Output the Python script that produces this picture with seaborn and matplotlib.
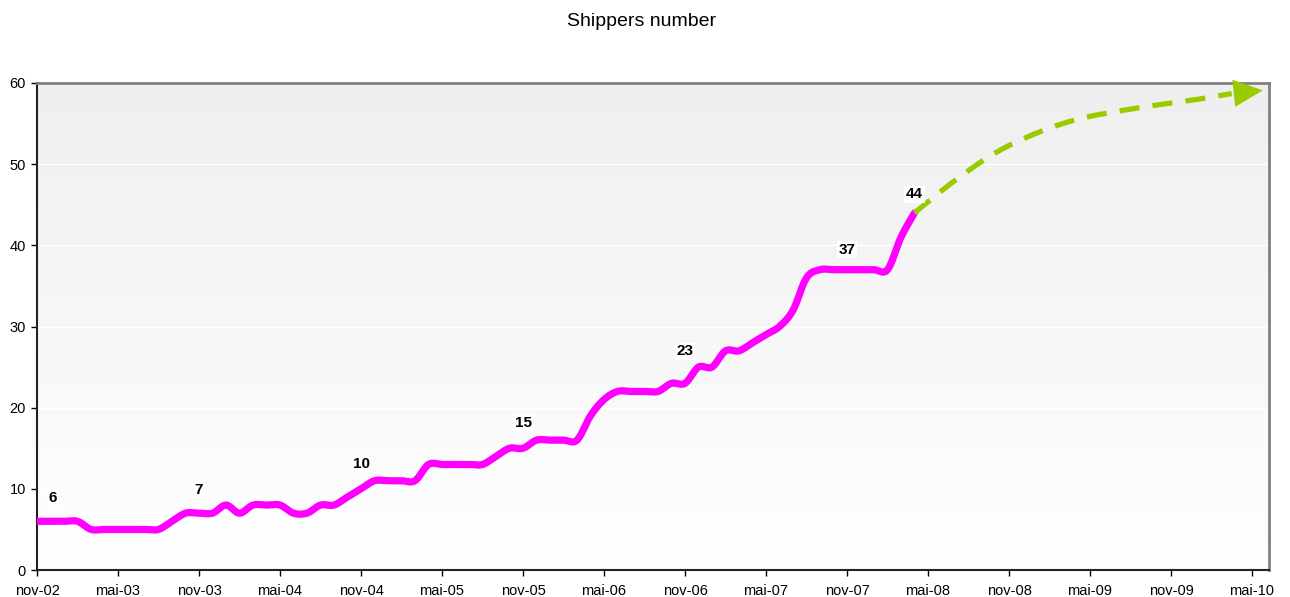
import numpy as np
import pandas as pd
import matplotlib
matplotlib.use("Agg")
import matplotlib.pyplot as plt
import seaborn as sns

# ---------------- data ----------------
tick_labels = ["nov-02", "mai-03", "nov-03", "mai-04", "nov-04", "mai-05", "nov-05", "mai-06",
               "nov-06", "mai-07", "nov-07", "mai-08", "nov-08", "mai-09", "nov-09", "mai-10"]

# monthly shipper counts, nov-02 (month 0) .. apr-08 (month 65)
shippers = [6, 6, 6, 6, 5, 5, 5, 5, 5, 5,
            6, 7, 7, 7, 8, 7, 8, 8, 8, 7,
            7, 8, 8, 9, 10, 11, 11, 11, 11, 13,
            13, 13, 13, 13, 14, 15, 15, 16, 16, 16,
            16, 19, 21, 22, 22, 22, 22, 23, 23, 25,
            25, 27, 27, 28, 29, 30, 32, 36, 37, 37,
            37, 37, 37, 37, 41, 44]
months = list(range(len(shippers)))

# forecast trend (dashed green arrow)
forecast_months = [65, 68, 71, 74, 77, 80, 83, 86, 88.5]
forecast_values = [44, 48.0, 51.4, 53.8, 55.5, 56.5, 57.3, 58.0, 58.7]
arrow_tip = (90.8, 59.1)

# labelled points (month index, value)
label_months = [0, 12, 24, 36, 48, 60, 65]
label_values = [6, 7, 10, 15, 23, 37, 44]


def smooth(xs, ys, n=16):
    """Excel-like smoothed line (Catmull-Rom Bezier through every point)."""
    P = np.column_stack([xs, ys]).astype(float)
    Pp = np.vstack([P[0], P, P[-1]])
    out = [P[0]]
    t = np.linspace(0, 1, n + 1)[1:, None]
    for i in range(len(P) - 1):
        p0, p1, p2, p3 = Pp[i], Pp[i + 1], Pp[i + 2], Pp[i + 3]
        c1 = p1 + (p2 - p0) / 6.0
        c2 = p2 - (p3 - p1) / 6.0
        seg = ((1 - t) ** 3) * p1 + 3 * ((1 - t) ** 2) * t * c1 + 3 * (1 - t) * t ** 2 * c2 + t ** 3 * p2
        out.extend(seg)
    out = np.array(out)
    return out[:, 0], out[:, 1]


sns.set_theme(style="white")
plt.rcParams["font.family"] = ["Liberation Sans", "DejaVu Sans"]

W, H, DPI = 1290, 597, 100
fig = plt.figure(figsize=(W / DPI, H / DPI), dpi=DPI)
fig.patch.set_facecolor("white")
left, right, top, bottom = 37, 1269, 83, 570
ax = fig.add_axes([left / W, 1 - bottom / H, (right - left) / W, (bottom - top) / H])

xmax = (right - left) / 13.5
ax.set_xlim(0, xmax)
ax.set_ylim(0, 60)

# gradient background
grad = np.linspace(0, 1, 256)[:, None]
ax.imshow(grad, extent=[0, xmax, 0, 60], aspect="auto", origin="lower",
          cmap=matplotlib.colors.LinearSegmentedColormap.from_list("g", ["#ffffff", "#efefef"]),
          zorder=0)
ax.set_facecolor("white")

for yv in range(10, 60, 10):
    ax.axhline(yv, color="white", lw=1.0, zorder=1)

# main line
sx, sy = smooth(months, shippers)
df = pd.DataFrame({"month": sx, "value": sy})
sns.lineplot(data=df, x="month", y="value", ax=ax, color="#ff00ff", lw=5.2,
             sort=False, estimator=None, zorder=3, solid_capstyle="round",
             solid_joinstyle="round")

# forecast line
fx, fy = smooth(forecast_months, forecast_values)
dff = pd.DataFrame({"month": fx, "value": fy})
sns.lineplot(data=dff, x="month", y="value", ax=ax, color="#99cc00", lw=3.8,
             sort=False, estimator=None, zorder=4)
fl = ax.lines[-1]
fl.set_dashes((3.8, 2.5))
fl.set_dash_capstyle("butt")

ax.annotate("", xy=arrow_tip, xytext=(forecast_months[-1], forecast_values[-1]),
            arrowprops=dict(arrowstyle="-|>,head_length=1.5,head_width=0.7",
                            mutation_scale=14, color="#99cc00", lw=0,
                            shrinkA=0, shrinkB=0), zorder=5)

# data labels
label_dx = [11.5, 0, 0, 0, 0, 0, 0]
label_dy = [16.5, 16.5, 18, 18.5, 23, 14.5, 13.5]
for m, v, dx, dy in zip(label_months, label_values, label_dx, label_dy):
    ax.annotate(str(v), xy=(m, v), xytext=(dx, dy), textcoords="offset points",
                ha="center", va="center", fontsize=11, fontweight="bold", color="black",
                bbox=dict(boxstyle="square,pad=0.1", fc="white", ec="none"), zorder=6)

# axes styling
ax.set_xticks(np.arange(0, 91, 6))
ax.set_xticklabels(tick_labels)
ax.set_yticks(np.arange(0, 61, 10))
ax.tick_params(axis="both", which="major", labelsize=10.5, colors="black",
               direction="out", length=4, width=1, pad=4, left=True, bottom=True)
ax.tick_params(axis="x", pad=6)
ax.set_xlabel("")
ax.set_ylabel("")
ax.grid(False)
for s in ["left", "bottom"]:
    ax.spines[s].set_color("#222222")
    ax.spines[s].set_linewidth(1.5)
for s in ["top", "right"]:
    ax.spines[s].set_color("#808080")
    ax.spines[s].set_linewidth(2)
    ax.spines[s].set_visible(True)

fig.text(642 / W, 1 - 21 / H, "Shippers number", ha="center", va="center",
         fontsize=14, color="black")

fig.savefig("out.png", dpi=DPI)
